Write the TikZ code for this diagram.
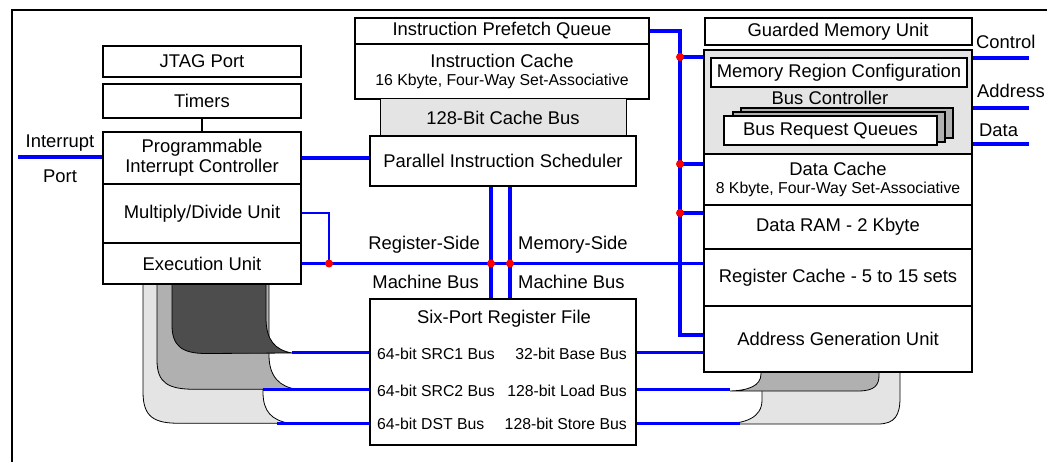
\documentclass[tikz,border=0pt]{standalone}
\usepackage{fontspec}
\setmainfont{Liberation Sans}
\newcommand{\mainsz}{\fontsize{18.4}{20}\selectfont}
\newcommand{\smallsz}{\fontsize{15.8}{18}\selectfont}
\definecolor{shdark}{HTML}{4D4D4D}
\definecolor{shmid}{HTML}{B0B0B0}
\definecolor{shlight}{HTML}{E4E4E4}
\pgfdeclarelayer{shapes}
\pgfdeclarelayer{wires}
\pgfsetlayers{shapes,wires,main}
\begin{document}
\begin{tikzpicture}[x=1pt,y=-1pt,
  box/.style={draw=black, line width=2pt, fill=white, inner sep=0pt, align=center, font=\mainsz},
  graybox/.style={box, fill=shlight},
  lbl/.style={inner sep=0pt, font=\mainsz},
  slbl/.style={inner sep=0pt, font=\smallsz},
  bus/.style={draw=blue, line width=3.5pt},
  rbus/.style={draw=blue, line width=3pt},
  thinbus/.style={draw=blue, line width=2pt},
  frame/.style={draw=black, line width=2pt},
  ribbon/.style={draw=black, line width=0.8pt},
  dot/.style={fill=red}
]
\useasboundingbox (0,0) rectangle (1047,462);

% frame
\coordinate (fTR) at (1047,10);
\coordinate (fTL) at (12,10);
\coordinate (fBL) at (12,462);
\draw[frame] (fTR) -- (fTL) -- (fBL);

% ---------- left column ----------
\node[box, minimum width=198, minimum height=31] (jtag) at (202,61.5) {JTAG Port};
\node[box, minimum width=198, minimum height=34] (timers) at (202,101) {Timers};
\node[box, minimum width=198, minimum height=52] (pic) at (202,158) {Programmable\\Interrupt Controller};
\node[box, minimum width=198, minimum height=59] (muldiv) at (202,213.5) {Multiply/Divide Unit};
\node[box, minimum width=198, minimum height=41] (exec) at (202,263.5) {Execution Unit};
\draw[black, line width=1.3pt] (timers.south) -- (pic.north);

% ---------- instruction column ----------
\node[box, minimum width=294, minimum height=26] (prefetch) at (502,31) {Instruction Prefetch Queue};
\node[box, minimum width=294, minimum height=55] (icache) at (502,71.5) {Instruction Cache\\[-2pt]{\smallsz 16 Kbyte, Four-Way Set-Associative}};
\node[graybox, line width=1pt, minimum width=246, minimum height=37] (cachebus) at (503,117.5) {128-Bit Cache Bus};
\node[box, minimum width=266, minimum height=50] (pis) at (503,161) {Parallel Instruction Scheduler};
\node[box, minimum width=266, minimum height=146] (regfile) at (503,372) {};
\node[lbl] (rftitle) at (504,319) {Six-Port Register File};
\node[slbl, anchor=west] (src1) at (377,354) {64-bit SRC1 Bus};
\node[slbl, anchor=west] (src2) at (377,391) {64-bit SRC2 Bus};
\node[slbl, anchor=west] (dst) at (377,424) {64-bit DST Bus};
\node[slbl, anchor=east] (base) at (627,354) {32-bit Base Bus};
\node[slbl, anchor=east] (load) at (627,391) {128-bit Load Bus};
\node[slbl, anchor=east] (store) at (627,424) {128-bit Store Bus};

% ---------- memory column ----------
\node[box, minimum width=267, minimum height=27] (gmu) at (838,31.5) {Guarded Memory Unit};
\node[graybox, minimum width=268, minimum height=104] (busctl) at (838,102) {};
\node[box, minimum width=256, minimum height=29] (mrc) at (839,72.5) {Memory Region Configuration};
\node[lbl] (bctext) at (830,98) {Bus Controller};
\node[box, fill=shmid, minimum width=212, minimum height=30] (brq2) at (847,123) {};
\node[box, fill=shmid, minimum width=212, minimum height=30] (brq1) at (839,127) {};
\node[box, minimum width=213, minimum height=29] (brq) at (830.5,130.5) {Bus Request Queues};
\node[box, minimum width=268, minimum height=51] (dcache) at (838,179.5) {Data Cache\\[-2pt]{\smallsz 8 Kbyte, Four-Way Set-Associative}};
\node[box, minimum width=268, minimum height=44] (dram) at (838,227) {Data RAM - 2 Kbyte};
\node[box, minimum width=268, minimum height=57] (regcache) at (838,277.5) {Register Cache - 5 to 15 sets};
\node[box, minimum width=268, minimum height=66] (agu) at (838,339) {Address Generation Unit};

% ---------- free labels ----------
\node[lbl] (intlbl) at (60,143) {Interrupt};
\node[lbl] (portlbl) at (60,176) {Port};
\node[lbl, anchor=east] (rs1) at (480,245) {Register-Side};
\node[lbl, anchor=east] (rs2) at (479,282) {Machine Bus};
\node[lbl, anchor=west] (ms1) at (518,245) {Memory-Side};
\node[lbl, anchor=west] (ms2) at (518,282) {Machine Bus};
\node[lbl, anchor=west] (ctl) at (976,42) {Control};
\node[lbl, anchor=west] (adr) at (977,91) {Address};
\node[lbl, anchor=west] (dat) at (979,130) {Data};

% ---------- coordinates ----------
\coordinate (intp) at (18,157);
\coordinate (jm) at (329,0);
\coordinate (xr) at (491,0);
\coordinate (xm) at (510,0);
\coordinate (xv) at (680,0);
\coordinate (yagu) at (0,335);
\coordinate (b1) at (680,57);
\coordinate (b2) at (680,164);
\coordinate (b3) at (680,213);
\coordinate (lt1) at (292,352.5);
\coordinate (lt2) at (263,389.3);
\coordinate (lt3) at (277,423.3);
\coordinate (rt2) at (730,389.3);
\coordinate (rt3) at (740,423.3);
\coordinate (oc) at (1029,58);
\coordinate (oa) at (1029,108);
\coordinate (od) at (1029,144);

% ---------- ribbons ----------
\begin{pgfonlayer}{shapes}
\draw[ribbon, fill=shlight] (143,278) -- (143,392) .. controls (143,418) and (155,423.3) .. (180,423.3)
   -- (289,423.3) .. controls (272,420) and (263,412) .. (263,392) -- (263,278) -- cycle;
\draw[ribbon, fill=shmid] (157,278) -- (157,360) .. controls (157,383) and (168,389.3) .. (195,389.3)
   -- (297,389.3) .. controls (280,387) and (269,377) .. (269,355) -- (269,278) -- cycle;
\draw[ribbon, fill=shdark] (172,278) -- (172,325) .. controls (172,346) and (182,353.5) .. (206,353.5)
   -- (292,353) .. controls (275,350) and (266,340) .. (266,318) -- (266,278) -- cycle;
\draw[ribbon, fill=shlight] (762,365) -- (762,400) .. controls (762,418) and (745,423.5) .. (723,424)
   -- (878,424) .. controls (895,424) and (900,415) .. (900,398) -- (900,365) -- cycle;
\draw[ribbon, fill=shmid] (761,365) -- (761,374) .. controls (761,386) and (748,390.5) .. (730,391)
   -- (858,391) .. controls (875,391) and (879,385) .. (879,375) -- (879,365) -- cycle;
\end{pgfonlayer}

% ---------- wires ----------
\begin{pgfonlayer}{wires}
\draw[bus] (intp) -- (intp -| pic.west);
\draw[bus] (pic.east) -- (pic.east -| pis.west);
\draw[thinbus] (muldiv.east) -| (jm |- exec.east);
\draw[bus] (exec.east) -- (exec.east -| regcache.west);
\draw[bus] (xr |- pis.south) -- (xr |- regfile.north);
\draw[bus] (xm |- pis.south) -- (xm |- regfile.north);
\draw[bus] (prefetch.east) -| (xv |- yagu) -- (yagu -| agu.west);
\draw[bus] (b1) -- (b1 -| busctl.west);
\draw[bus] (b2) -- (b2 -| dcache.west);
\draw[bus] (b3) -- (b3 -| dram.west);
\draw[rbus] (lt1) -- (lt1 -| regfile.west);
\draw[rbus] (lt2) -- (lt2 -| regfile.west);
\draw[rbus] (lt3) -- (lt3 -| regfile.west);
\draw[rbus] (lt1 -| regfile.east) -- (lt1 -| agu.west);
\draw[rbus] (rt2 -| regfile.east) -- (rt2);
\draw[rbus] (rt3 -| regfile.east) -- (rt3);
\draw[bus] (oc -| busctl.east) -- (oc);
\draw[bus] (oa -| busctl.east) -- (oa);
\draw[bus] (od -| busctl.east) -- (od);
\end{pgfonlayer}

% ---------- junction dots ----------
\fill[dot] (jm |- exec.east) circle (4);
\fill[dot] (xr |- exec.east) circle (4);
\fill[dot] (xm |- exec.east) circle (4);
\fill[dot] (b1) circle (4);
\fill[dot] (b2) circle (4);
\fill[dot] (b3) circle (4);
\end{tikzpicture}
\end{document}
